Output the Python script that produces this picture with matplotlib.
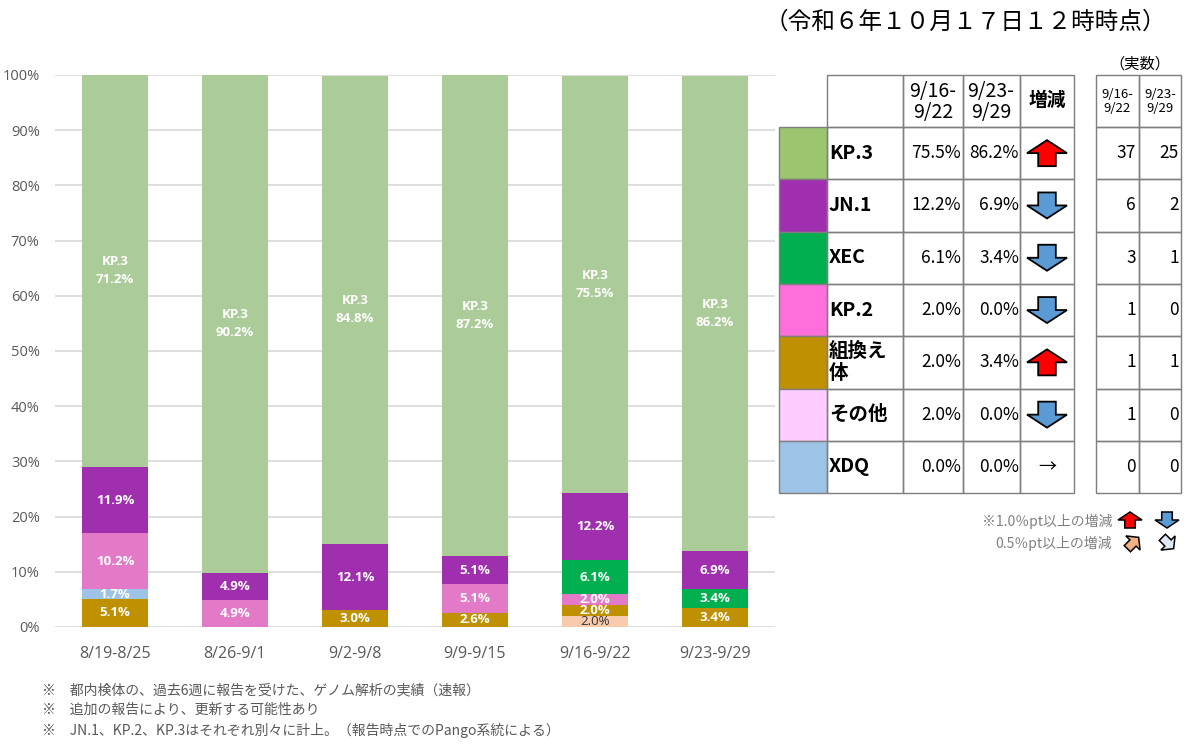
import matplotlib
matplotlib.use("Agg")
import matplotlib.pyplot as plt
from matplotlib.patches import Polygon, Rectangle
import numpy as np

plt.rcParams['font.family'] = ['Noto Sans CJK JP', 'DejaVu Sans']

# ---- data ----
weeks = ["8/19-8/25", "8/26-9/1", "9/2-9/8", "9/9-9/15", "9/16-9/22", "9/23-9/29"]
lineages = ["その他", "組換え体", "XDQ", "KP.2", "XEC", "JN.1", "KP.3"]  # bottom -> top
other = [0, 0, 0, 0, 2.0, 0]
recomb = [5.1, 0, 3.0, 2.6, 2.0, 3.4]
xdq = [1.7, 0, 0, 0, 0, 0]
kp2 = [10.2, 4.9, 0, 5.1, 2.0, 0]
xec = [0, 0, 0, 0, 6.1, 3.4]
jn1 = [11.9, 4.9, 12.1, 5.1, 12.2, 6.9]
kp3 = [71.2, 90.2, 84.8, 87.2, 75.5, 86.2]
series = [other, recomb, xdq, kp2, xec, jn1, kp3]
bar_colors = ["#F8CBAD", "#BF9000", "#9DC3E6", "#E27AC8", "#00B050", "#A02FAF", "#ABCB98"]

tbl_names = ["KP.3", "JN.1", "XEC", "KP.2", "組換え\n体", "その他", "XDQ"]
tbl_swatch = ["#9BC66F", "#A02FAF", "#00B050", "#FF6FDB", "#BF9000", "#FFCCFF", "#9DC3E6"]
pct_prev = [75.5, 12.2, 6.1, 2.0, 2.0, 2.0, 0.0]
pct_curr = [86.2, 6.9, 3.4, 0.0, 3.4, 0.0, 0.0]
cnt_prev = [37, 6, 3, 1, 1, 1, 0]
cnt_curr = [25, 2, 1, 0, 1, 0, 0]

W, H = 1200, 754
fig = plt.figure(figsize=(W / 100, H / 100), dpi=100)

# ---- stacked bar chart ----
ax = fig.add_axes([55 / W, 1 - 627 / H, 720 / W, 552 / H])
x = np.arange(len(weeks))
bottom = np.zeros(len(weeks))
lab_font = ['Open Sans', 'DejaVu Sans']
for name, vals, col in zip(lineages, series, bar_colors):
    vals = np.array(vals)
    ax.bar(x, vals, 0.55, bottom=bottom, color=col, zorder=2)
    for i, v in enumerate(vals):
        if v <= 0:
            continue
        yc = bottom[i] + v / 2
        if name == "KP.3":
            ax.text(x[i], yc, f"KP.3\n{v:.1f}%", ha='center', va='center', color='white',
                    fontsize=9.5, fontweight='bold', family=lab_font,
                    linespacing=1.5, zorder=3)
        elif name == "その他":
            ax.text(x[i], yc, f"{v:.1f}%", ha='center', va='center', color='#333333',
                    fontsize=9.5, family=lab_font, zorder=3)
        else:
            ax.text(x[i], yc, f"{v:.1f}%", ha='center', va='center', color='white',
                    fontsize=9.5, fontweight='bold', family=lab_font, zorder=3)
    bottom += vals

ax.set_xlim(-0.5, len(weeks) - 0.5)
ax.set_ylim(0, 100)
ax.set_yticks(np.arange(0, 101, 10))
ax.set_yticklabels([f"{t}%" for t in range(0, 101, 10)])
ax.set_xticks(x)
ax.set_xticklabels(weeks)
ax.grid(axis='y', color='#D9D9D9', lw=1.2, zorder=0)
for s in ax.spines.values():
    s.set_visible(False)
ax.tick_params(length=0, colors='#595959', labelsize=10.5)
ax.tick_params(axis='y', pad=11)
ax.tick_params(axis='x', pad=14, labelsize=11.5)
for lab in ax.get_xticklabels() + ax.get_yticklabels():
    lab.set_family(lab_font)

# ---- overlay in pixel coords for table / notes ----
ov = fig.add_axes([0, 0, 1, 1], facecolor='none')
ov.set_xlim(0, W)
ov.set_ylim(H, 0)
ov.axis('off')

ov.text(965, 22, "（令和６年１０月１７日１２時時点）", ha='center', va='center', fontsize=17)

up_shape = np.array([[-0.22, 0.5], [0.22, 0.5], [0.22, 0.0], [0.5, 0.0],
                     [0.0, -0.5], [-0.5, 0.0], [-0.22, 0.0]])


def arrow(cx, cy, w, h, color, angle=0.0, lw=1.3):
    pts = up_shape * [w, h]
    a = np.deg2rad(angle)
    rot = np.array([[np.cos(a), -np.sin(a)], [np.sin(a), np.cos(a)]])
    pts = pts @ rot.T + [cx, cy]
    ov.add_patch(Polygon(pts, closed=True, fc=color, ec='black', lw=lw, joinstyle='miter'))


line_c = '#7F7F7F'
xs_main = [827, 903, 963, 1020, 1074]
xs_cnt = [1096, 1139, 1181]
y_head = 75
row_h = 52.3
y_rows = [127 + i * row_h for i in range(len(tbl_names) + 1)]

# header cells
for x0, x1 in zip(xs_main[:-1], xs_main[1:]):
    ov.add_patch(Rectangle((x0, y_head), x1 - x0, y_rows[0] - y_head, fc='none', ec=line_c, lw=1))
for x0, x1 in zip(xs_cnt[:-1], xs_cnt[1:]):
    ov.add_patch(Rectangle((x0, y_head), x1 - x0, y_rows[0] - y_head, fc='none', ec=line_c, lw=1))
ov.text(933, 102, "9/16-\n9/22", ha='center', va='center', fontsize=14, linespacing=1.0)
ov.text(991, 102, "9/23-\n9/29", ha='center', va='center', fontsize=14, linespacing=1.0)
ov.text(1047, 100, "増減", ha='center', va='center', fontsize=13.5, fontweight='bold')
ov.text(1117, 101, "9/16-\n9/22", ha='center', va='center', fontsize=9.5, linespacing=1.1)
ov.text(1160, 101, "9/23-\n9/29", ha='center', va='center', fontsize=9.5, linespacing=1.1)
ov.text(1140, 64, "（実数）", ha='center', va='center', fontsize=11)

for i, name in enumerate(tbl_names):
    y0, y1 = y_rows[i], y_rows[i + 1]
    yc = (y0 + y1) / 2
    ov.add_patch(Rectangle((779, y0), 827 - 779, y1 - y0, fc=tbl_swatch[i], ec=line_c, lw=1))
    for x0, x1 in zip(xs_main[:-1], xs_main[1:]):
        ov.add_patch(Rectangle((x0, y0), x1 - x0, y1 - y0, fc='none', ec=line_c, lw=1))
    for x0, x1 in zip(xs_cnt[:-1], xs_cnt[1:]):
        ov.add_patch(Rectangle((x0, y0), x1 - x0, y1 - y0, fc='none', ec=line_c, lw=1))
    ov.text(829, yc, name, ha='left', va='center', fontsize=14, fontweight='bold',
            linespacing=1.15)
    ov.text(961, yc, f"{pct_prev[i]:.1f}%", ha='right', va='center', fontsize=12.5)
    ov.text(1019, yc, f"{pct_curr[i]:.1f}%", ha='right', va='center', fontsize=12.5)
    d = pct_curr[i] - pct_prev[i]
    if d >= 1.0:
        arrow(1047, yc, 40, 26, '#FF0000')
    elif d <= -1.0:
        arrow(1047, yc, 40, 26, '#5B9BD5', angle=180)
    else:
        ov.text(1047, yc, "→", ha='center', va='center', fontsize=13)
    ov.text(1136, yc, f"{cnt_prev[i]}", ha='right', va='center', fontsize=12.5)
    ov.text(1179, yc, f"{cnt_curr[i]}", ha='right', va='center', fontsize=12.5)

# legend for arrows
ov.text(1112, 521, "※1.0％pt以上の増減", ha='right', va='center', fontsize=10, color='#808080')
arrow(1130, 520, 24, 16, '#FF0000', lw=1.1)
arrow(1167, 520, 24, 16, '#5B9BD5', angle=180, lw=1.1)
ov.text(1112, 543, "0.5％pt以上の増減", ha='right', va='center', fontsize=10, color='#808080')
arrow(1133, 543, 20, 16, '#F4B183', angle=45, lw=1.1)
arrow(1168, 543, 20, 16, '#DEEBF7', angle=135, lw=1.1)

# footnotes
notes = ["※　都内検体の、過去6週に報告を受けた、ゲノム解析の実績（速報）",
         "※　追加の報告により、更新する可能性あり",
         "※　JN.1、KP.2、KP.3はそれぞれ別々に計上。（報告時点でのPango系統による）"]
for k, n in enumerate(notes):
    ov.text(42, 690 + k * 20, n, ha='left', va='center', fontsize=10, color='#595959')

fig.savefig("out.png", dpi=100)
